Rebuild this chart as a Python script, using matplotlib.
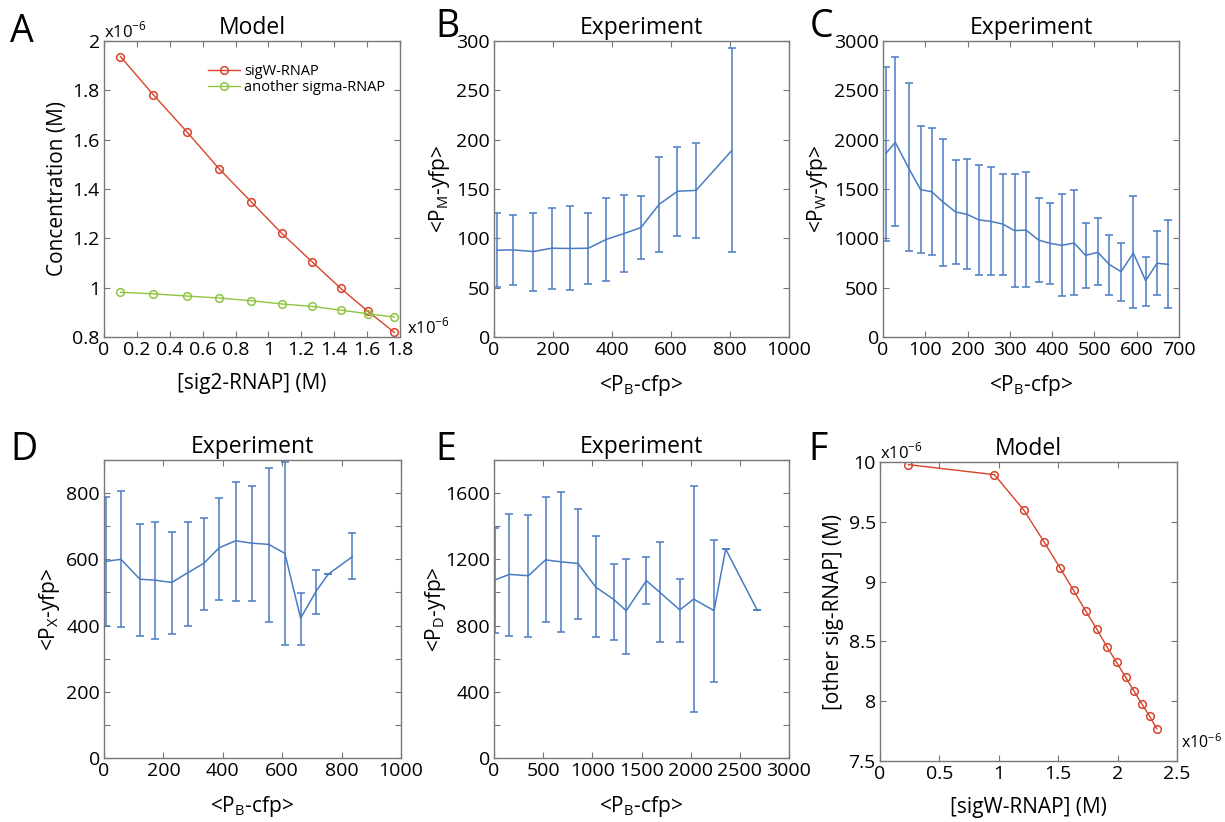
import numpy as np
import matplotlib
matplotlib.use("Agg")
import matplotlib.pyplot as plt
from matplotlib.ticker import MultipleLocator, FuncFormatter

plt.rcParams['font.family'] = ['Open Sans', 'DejaVu Sans']
plt.rcParams['mathtext.fontset'] = 'custom'
plt.rcParams['mathtext.rm'] = 'Open Sans'

RED = '#d8432c'
GREEN = '#8dc540'
BLUE = '#4a7bc2'
SPINE = '#777777'

# ---- panel A (model), units of 1e-6 M
a_x = [0.10, 0.30, 0.505, 0.70, 0.895, 1.08, 1.265, 1.44, 1.605, 1.765]
a_sigw = [1.937, 1.782, 1.631, 1.482, 1.348, 1.221, 1.105, 0.997, 0.904, 0.819]
a_other = [0.981, 0.975, 0.966, 0.958, 0.947, 0.934, 0.924, 0.909, 0.894, 0.881]

# ---- panel B
b_x = [11, 65, 133, 195, 258, 320, 381, 440, 498, 560, 622, 685, 806]
b_mean = [88, 88.3, 86.6, 90, 89.7, 90, 99, 104.8, 110.9, 134.5, 147.7, 148.6, 189]
b_hi = [125.7, 123.7, 126, 130.4, 132.5, 126, 140.9, 143.6, 142.6, 182.7, 192.8, 196.8, 293.2]
b_lo = [50.2, 52.9, 46.8, 48.9, 47.5, 53.6, 57, 66, 79.2, 86, 102.5, 100, 86.6]

# ---- panel C
c_x = [7, 29, 61, 89, 115, 143, 172, 199, 227, 255, 283, 311, 338,
       368, 395, 423, 452, 479, 508, 535, 563, 592, 621, 648, 675]
c_mean = [1861, 1973, 1709, 1493, 1473, 1365, 1267, 1243, 1186, 1172, 1145, 1078, 1084,
          983, 949, 929, 953, 828, 858, 736, 662, 851, 571, 747, 736]
c_hi = [2733, 2841, 2571, 2139, 2122, 2010, 1794, 1804, 1740, 1720, 1655, 1649, 1670,
        1409, 1361, 1449, 1486, 1155, 1203, 1037, 949, 1426, 807, 1078, 1186]
c_lo = [973, 1122, 872, 855, 834, 720, 740, 686, 632, 625, 632, 507, 510,
        554, 537, 416, 429, 493, 524, 429, 361, 297, 318, 426, 291]

# ---- panel D
d_x = [7, 57, 121, 173, 228, 283, 336, 388, 443, 497, 555, 609, 662, 715, 755, 836]
d_mean = [594, 600, 540, 537, 530, 560, 588, 635, 656, 649, 645, 618, 422, 505, 555, 608]
d_hi = [788, 806, 708, 714, 682, 712, 725, 785, 835, 821, 877, 894, 499, 567, 555, 679]
d_lo = [398, 395, 369, 360, 376, 400, 447, 477, 475, 474, 411, 341, 341, 435, 555, 540]

# ---- panel E
e_x = [7, 156, 350, 524, 680, 854, 1035, 1217, 1345, 1550, 1692, 1890, 2030, 2238, 2356, 2678]
e_mean = [1075, 1109, 1101, 1197, 1185, 1175, 1032, 958, 890, 1071, 998, 894, 960, 890, 1262, 892]
e_hi = [1387, 1476, 1469, 1576, 1608, 1507, 1338, 1174, 1199, 1215, 1306, 1079, 1644, 1316, 1262, 892]
e_lo = [757, 739, 729, 821, 763, 841, 731, 712, 628, 928, 700, 702, 278, 457, 1262, 892]

# ---- panel F (model), units of 1e-6 M
f_x = [0.239, 0.963, 1.213, 1.379, 1.514, 1.629, 1.733, 1.826, 1.910, 1.992,
       2.067, 2.138, 2.205, 2.270, 2.329]
f_y = [9.978, 9.894, 9.595, 9.335, 9.117, 8.927, 8.751, 8.601, 8.455, 8.324,
       8.201, 8.084, 7.975, 7.874, 7.770]

W, H = 1225, 822
fig = plt.figure(figsize=(W / 100, H / 100), dpi=100)


def make_ax(left, top, right, bottom):
    ax = fig.add_axes([left / W, 1 - bottom / H, (right - left) / W, (bottom - top) / H])
    for s in ax.spines.values():
        s.set_color(SPINE)
        s.set_linewidth(1.0)
    ax.tick_params(which='both', direction='in', top=True, right=True,
                   length=4, width=0.8, color=SPINE, labelsize=14, pad=3)
    return ax


def style(ax, title, xlabel, ylabel):
    ax.set_title(title, fontsize=16.5, pad=5)
    ax.set_xlabel(xlabel, fontsize=15, labelpad=10)
    ax.set_ylabel(ylabel, fontsize=15, labelpad=3)


def err_panel(ax, x, mean, lo, hi):
    m = np.array(mean)
    yerr = [m - np.array(lo), np.array(hi) - m]
    ax.errorbar(x, m, yerr=yerr, color=BLUE, lw=1.1, elinewidth=1.1,
                capsize=3, capthick=1.1)


def skip_odd(step):
    return FuncFormatter(lambda v, p: '%d' % v if round(v / step) % 2 == 0 else '')


# A
ax = make_ax(104, 41, 400, 337)
ax.plot(a_x, a_sigw, '-o', color=RED, lw=1, ms=5.5, mfc='none', mew=1.1, label='sigW-RNAP')
ax.plot(a_x, a_other, '-o', color=GREEN, lw=1, ms=5.5, mfc='none', mew=1.1, label='another sigma-RNAP')
ax.set_xlim(0, 1.8)
ax.set_ylim(0.8, 2.0)
ax.xaxis.set_major_locator(MultipleLocator(0.2))
ax.yaxis.set_major_locator(MultipleLocator(0.2))
ax.xaxis.set_major_formatter(FuncFormatter(lambda v, p: ('%g' % round(v, 1))))
ax.yaxis.set_major_formatter(FuncFormatter(lambda v, p: ('%g' % round(v, 1))))
style(ax, 'Model', '[sig2-RNAP] (M)', 'Concentration (M)')
ax.legend(loc='upper right', frameon=False, fontsize=10.5, handlelength=2.2,
          handletextpad=0.3, borderaxespad=0.6, labelspacing=0.05, bbox_to_anchor=(1.0, 0.97))
ax.text(0.0, 1.0, 'x10$^{-6}$', transform=ax.transAxes, ha='left', va='bottom', fontsize=12)
ax.text(1.025, 0.0, 'x10$^{-6}$', transform=ax.transAxes, ha='left', va='bottom', fontsize=12)

# B
ax = make_ax(494, 41, 789, 337)
err_panel(ax, b_x, b_mean, b_lo, b_hi)
ax.set_xlim(0, 1000)
ax.set_ylim(0, 300)
ax.xaxis.set_major_locator(MultipleLocator(200))
ax.yaxis.set_major_locator(MultipleLocator(50))
style(ax, 'Experiment', r'<P$_\mathregular{B}$-cfp>', r'<P$_\mathregular{M}$-yfp>')

# C
ax = make_ax(883, 41, 1179, 337)
err_panel(ax, c_x, c_mean, c_lo, c_hi)
ax.set_xlim(0, 700)
ax.set_ylim(0, 3000)
ax.xaxis.set_major_locator(MultipleLocator(100))
ax.yaxis.set_major_locator(MultipleLocator(500))
style(ax, 'Experiment', r'<P$_\mathregular{B}$-cfp>', r'<P$_\mathregular{W}$-yfp>')

# D
ax = make_ax(104, 460, 401, 758)
err_panel(ax, d_x, d_mean, d_lo, d_hi)
ax.set_xlim(0, 1000)
ax.set_ylim(0, 900)
ax.xaxis.set_major_locator(MultipleLocator(200))
ax.yaxis.set_major_locator(MultipleLocator(100))
ax.yaxis.set_major_formatter(skip_odd(100))
style(ax, 'Experiment', r'<P$_\mathregular{B}$-cfp>', r'<P$_\mathregular{X}$-yfp>')

# E
ax = make_ax(494, 460, 789, 758)
err_panel(ax, e_x, e_mean, e_lo, e_hi)
ax.set_xlim(0, 3000)
ax.set_ylim(0, 1800)
ax.xaxis.set_major_locator(MultipleLocator(500))
ax.yaxis.set_major_locator(MultipleLocator(200))
ax.yaxis.set_major_formatter(skip_odd(200))
style(ax, 'Experiment', r'<P$_\mathregular{B}$-cfp>', r'<P$_\mathregular{D}$-yfp>')
ax.yaxis.labelpad = -2

# F
ax = make_ax(880, 462, 1177, 761)
ax.plot(f_x, f_y, '-o', color=RED, lw=1, ms=5.5, mfc='none', mew=1.1)
ax.set_xlim(0, 2.5)
ax.set_ylim(7.5, 10)
ax.xaxis.set_major_locator(MultipleLocator(0.5))
ax.yaxis.set_major_locator(MultipleLocator(0.5))
ax.xaxis.set_major_formatter(FuncFormatter(lambda v, p: '%g' % v))
ax.yaxis.set_major_formatter(FuncFormatter(lambda v, p: '%g' % v))
style(ax, 'Model', '[sigW-RNAP] (M)', '[other sig-RNAP] (M)')
ax.text(0.0, 1.0, 'x10$^{-6}$', transform=ax.transAxes, ha='left', va='bottom', fontsize=12)
ax.text(1.012, 0.03, 'x10$^{-6}$', transform=ax.transAxes, ha='left', va='bottom', fontsize=11.5)

# panel letters
for lab, x, y in [('A', 10, 32), ('B', 435, 27), ('C', 810, 27),
                  ('D', 10, 450), ('E', 435, 450), ('F', 808, 450)]:
    fig.text(x / W, 1 - y / H, lab, fontsize=27, ha='left', va='center')

fig.savefig('out.png', dpi=100)
